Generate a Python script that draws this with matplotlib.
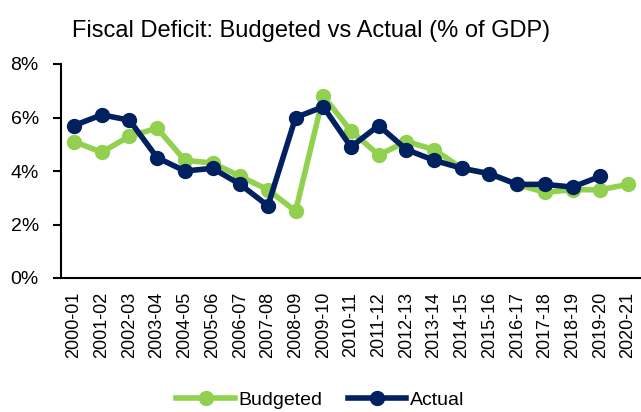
import matplotlib.pyplot as plt
from matplotlib.ticker import FuncFormatter

years = ['2000-01', '2001-02', '2002-03', '2003-04', '2004-05', '2005-06', '2006-07',
         '2007-08', '2008-09', '2009-10', '2010-11', '2011-12', '2012-13', '2013-14',
         '2014-15', '2015-16', '2016-17', '2017-18', '2018-19', '2019-20', '2020-21']
budgeted = [5.1, 4.7, 5.3, 5.6, 4.4, 4.3, 3.8, 3.3, 2.5, 6.8, 5.5, 4.6, 5.1, 4.8,
            4.1, 3.9, 3.5, 3.2, 3.3, 3.3, 3.5]
actual = [5.7, 6.1, 5.9, 4.5, 4.0, 4.1, 3.5, 2.7, 6.0, 6.4, 4.9, 5.7, 4.8, 4.4,
          4.1, 3.9, 3.5, 3.5, 3.4, 3.8]

green = '#92D050'
navy = '#002060'

plt.rcParams['font.family'] = ['Liberation Sans', 'DejaVu Sans']

fig = plt.figure(figsize=(6.41, 4.12), dpi=100)
ax = fig.add_axes([61 / 641, 134 / 412, 580 / 641, 214 / 412])

x = list(range(len(years)))
ax.plot(x, budgeted, color=green, lw=4, marker='o', ms=10, label='Budgeted')
ax.plot(x[:len(actual)], actual, color=navy, lw=4, marker='o', ms=10, label='Actual')

ax.set_xlim(-0.47, 20.47)
ax.set_ylim(0, 8)
ax.set_yticks([0, 2, 4, 6, 8])
ax.yaxis.set_major_formatter(FuncFormatter(lambda v, p: f'{v:.0f}%'))
ax.set_xticks(x)
ax.set_xticklabels(years, rotation=90)
ax.tick_params(axis='x', length=0, pad=10, labelsize=13)
ax.tick_params(axis='y', length=6, width=1.5, direction='out', labelsize=14, pad=10)
for s in ['top', 'right']:
    ax.spines[s].set_visible(False)
ax.spines['left'].set_linewidth(1.5)
ax.spines['bottom'].set_linewidth(1.5)

fig.text(0.485, 0.925, 'Fiscal Deficit: Budgeted vs Actual (% of GDP)', ha='center',
         va='center', fontsize=17)

fig.legend(loc='center', bbox_to_anchor=(0.5, 0.028), ncol=2, frameon=False,
           fontsize=14, handlelength=3, columnspacing=1.3, handletextpad=0.2)

fig.savefig('out.png', dpi=100)
